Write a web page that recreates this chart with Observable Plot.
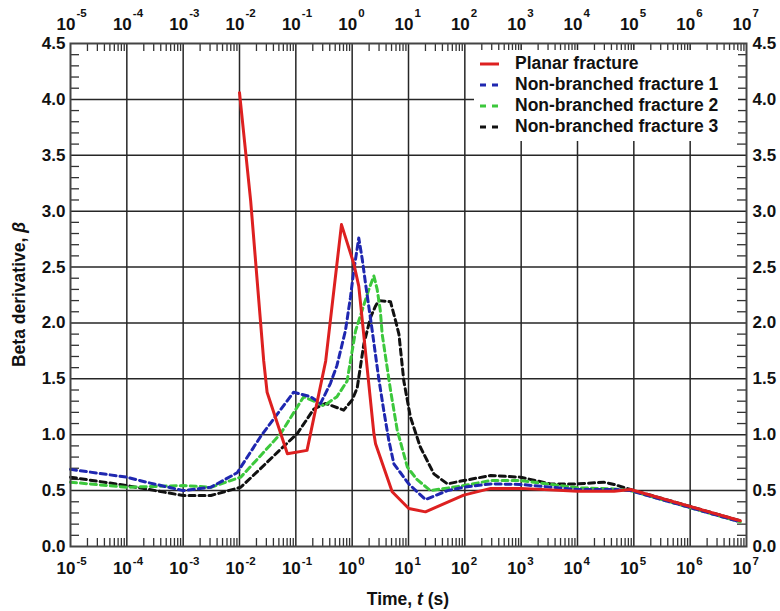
<!DOCTYPE html>
<html><head><meta charset="utf-8">
<script src="https://cdn.jsdelivr.net/npm/d3@7"></script>
<script src="https://cdn.jsdelivr.net/npm/@observablehq/plot@0.6"></script>
<style>
body{margin:0;background:#fff;}
#wrap{position:relative;width:780px;height:611px;font-family:"Liberation Sans",Arial,sans-serif;}
#legend{position:absolute;left:474px;top:50px;width:264px;padding:3px 0 4px 0;background:#fff;}
.row{display:flex;align-items:center;height:21px;font-size:17.5px;font-weight:bold;color:#111;white-space:nowrap;}
.row svg{width:41px;height:21px;flex:none;}
</style></head><body><div id="wrap"><div id="legend"></div></div>
<script>
// ---- data (time t in s, beta derivative) ----
const seriesNames = ["Planar fracture","Non-branched fracture 1","Non-branched fracture 2","Non-branched fracture 3"];
const seriesColors = ["#dd2020","#1f27b0","#3cc83c","#111111"];

const planarT = [0.01,0.0158,0.0269,0.0309,0.0708,0.158,0.339,0.646,1.07,1.31,2.43,2.6,5.13,10.1,20,95.5,288,977,1e4,4.47e4,8.7e4,7.76e6];
const planarB = [4.06,3.09,1.66,1.38,0.83,0.86,1.66,2.88,2.53,2.33,1.01,0.92,0.49,0.34,0.31,0.46,0.52,0.52,0.495,0.495,0.51,0.23];

const nb1T = [1e-5,1e-4,2.24e-4,1e-3,3.1e-3,0.0091,0.0234,0.0912,0.182,0.275,0.412,0.537,0.759,0.933,1.07,1.31,1.51,1.73,2.27,2.95,3.63,4.47,5.5,10.1,20,49,95.5,288,977,1e4,4.47e4,8.7e4,7.76e6];
const nb1B = [0.69,0.62,0.575,0.50,0.53,0.66,0.98,1.38,1.34,1.28,1.46,1.62,1.93,2.23,2.47,2.76,2.57,2.35,1.93,1.51,1.22,0.95,0.74,0.56,0.42,0.50,0.53,0.56,0.555,0.51,0.51,0.50,0.22];

const nb2T = [1e-5,1e-4,1e-3,3.1e-3,0.0105,0.0234,0.0537,0.138,0.316,0.537,0.813,0.933,1.15,1.61,1.98,2.43,2.78,3.16,3.41,4.79,6.31,9.55,14.1,24.5,95.5,288,977,1e4,4.47e4,8.7e4,7.76e6];
const nb2B = [0.575,0.53,0.545,0.53,0.62,0.81,1.01,1.34,1.26,1.34,1.48,1.66,1.93,2.16,2.30,2.42,2.30,2.11,1.90,1.40,1.04,0.71,0.60,0.50,0.545,0.59,0.59,0.525,0.515,0.50,0.22];

const nb3T = [1e-5,1e-4,1e-3,3.1e-3,0.0105,0.0234,0.0537,0.106,0.209,0.339,0.708,1,1.23,1.61,2.12,2.59,2.95,4.79,5.89,6.76,8.26,10.8,16.2,28.2,49,95.5,288,977,3311,1e4,2.95e4,4.47e4,8.7e4,7.76e6];
const nb3B = [0.62,0.545,0.456,0.456,0.53,0.695,0.87,1.01,1.23,1.28,1.22,1.31,1.42,1.81,2.05,2.15,2.2,2.19,2.02,1.90,1.48,1.16,0.89,0.65,0.56,0.59,0.635,0.62,0.56,0.56,0.575,0.555,0.51,0.23];

// ---- ticks ----
const xTickExponents = [-5,-4,-3,-2,-1,0,1,2,3,4,5,6,7];
const yTicks = [0,0.5,1,1.5,2,2.5,3,3.5,4,4.5];

const W = 780, H = 611, mL = 70, mR = 34, mT = 43, mB = 65;
const fw = W - mL - mR, fh = H - mT - mB;

const decades = xTickExponents.map(e => Math.pow(10, e));
const minorX = [];
xTickExponents.slice(0, -1).forEach(e => { for (let k = 2; k <= 9; k++) minorX.push(k * Math.pow(10, e)); });
const minorY = [];
for (let i = 1; i < 45; i++) if (i % 5 !== 0) minorY.push(i / 10);

const toRows = (T, B) => T.map((t, i) => ({t, b: B[i]}));
const planar = toRows(planarT, planarB), nb1 = toRows(nb1T, nb1B), nb2 = toRows(nb2T, nb2B), nb3 = toRows(nb3T, nb3B);

const expText = e => (e < 0 ? "-" + (-e) : String(e));
const baseFont = {fontSize: 17, fontWeight: "bold", fill: "#111"};
const expFont = {fontSize: 11.5, fontWeight: "bold", fill: "#111"};
const yFont = {fontSize: 17, fontWeight: "bold", fill: "#111"};
const gridStyle = {stroke: "#262626", strokeOpacity: 1, strokeWidth: 1.5};
const tickStyle = {stroke: "#333", strokeWidth: 1.3};

const chart = Plot.plot({
  width: W, height: H,
  marginLeft: mL, marginRight: mR, marginTop: mT, marginBottom: mB,
  style: {fontFamily: '"Liberation Sans", Arial, sans-serif', background: "#fff", overflow: "visible"},
  x: {type: "log", domain: [1e-5, 1e7], axis: null},
  y: {domain: [0, 4.5], axis: null},
  marks: [
    Plot.gridX(decades.slice(1, -1), gridStyle),
    Plot.gridY(yTicks.slice(1, -1), gridStyle),
    Plot.tickX(minorX, {x: d => d, insetTop: fh - 8, ...tickStyle}),
    Plot.tickX(minorX, {x: d => d, insetBottom: fh - 8, ...tickStyle}),
    Plot.tickY(minorY, {y: d => d, insetRight: fw - 9, ...tickStyle}),
    Plot.tickY(minorY, {y: d => d, insetLeft: fw - 9, ...tickStyle}),
    Plot.line(nb3, {x: "t", y: "b", stroke: seriesColors[3], strokeWidth: 3, strokeDasharray: "6,4"}),
    Plot.line(nb2, {x: "t", y: "b", stroke: seriesColors[2], strokeWidth: 3, strokeDasharray: "6,4"}),
    Plot.line(nb1, {x: "t", y: "b", stroke: seriesColors[1], strokeWidth: 3, strokeDasharray: "6,4"}),
    Plot.line(planar, {x: "t", y: "b", stroke: seriesColors[0], strokeWidth: 3}),
    Plot.frame({stroke: "#444", strokeWidth: 2}),
    // bottom tick labels
    Plot.text(xTickExponents, {x: e => Math.pow(10, e), text: () => "10", frameAnchor: "bottom", dy: 27, dx: 5, textAnchor: "end", ...baseFont}),
    Plot.text(xTickExponents, {x: e => Math.pow(10, e), text: expText, frameAnchor: "bottom", dy: 18.5, dx: 6, textAnchor: "start", ...expFont}),
    // top tick labels
    Plot.text(xTickExponents, {x: e => Math.pow(10, e), text: () => "10", frameAnchor: "top", dy: -26, dx: 5, textAnchor: "end", ...baseFont}),
    Plot.text(xTickExponents, {x: e => Math.pow(10, e), text: expText, frameAnchor: "top", dy: -35, dx: 6, textAnchor: "start", ...expFont}),
    // y tick labels
    Plot.text(yTicks, {y: d => d, text: d => d.toFixed(1), frameAnchor: "left", dx: -5, textAnchor: "end", ...yFont}),
    Plot.text(yTicks, {y: d => d, text: d => d.toFixed(1), frameAnchor: "right", dx: 6, textAnchor: "start", ...yFont})
  ]
});

const wrap = document.getElementById("wrap");
wrap.insertBefore(chart, wrap.firstChild);

// axis titles with italic symbols
const svg = d3.select(chart);
const xt = svg.append("text").attr("x", mL + fw / 2).attr("y", H - 6).attr("text-anchor", "middle")
  .attr("font-size", 17.5).attr("font-weight", "bold").attr("fill", "#111");
xt.append("tspan").text("Time, ");
xt.append("tspan").attr("font-style", "italic").text("t");
xt.append("tspan").text(" (s)");
const yt = svg.append("text").attr("transform", `translate(25,${mT + fh / 2}) rotate(-90)`).attr("text-anchor", "middle")
  .attr("font-size", 17.5).attr("font-weight", "bold").attr("fill", "#111");
yt.append("tspan").text("Beta derivative, ");
yt.append("tspan").attr("font-style", "italic").text("β");

// legend
const legend = document.getElementById("legend");
seriesNames.forEach((name, i) => {
  const row = document.createElement("div");
  row.className = "row";
  const dash = i === 0 ? "" : `stroke-dasharray="6,6"`;
  row.innerHTML = `<svg viewBox="0 0 41 21"><line x1="6" x2="25" y1="11" y2="11" stroke="${seriesColors[i]}" stroke-width="3" ${dash}/></svg><span>${name}</span>`;
  legend.appendChild(row);
});
</script>
</body></html>
